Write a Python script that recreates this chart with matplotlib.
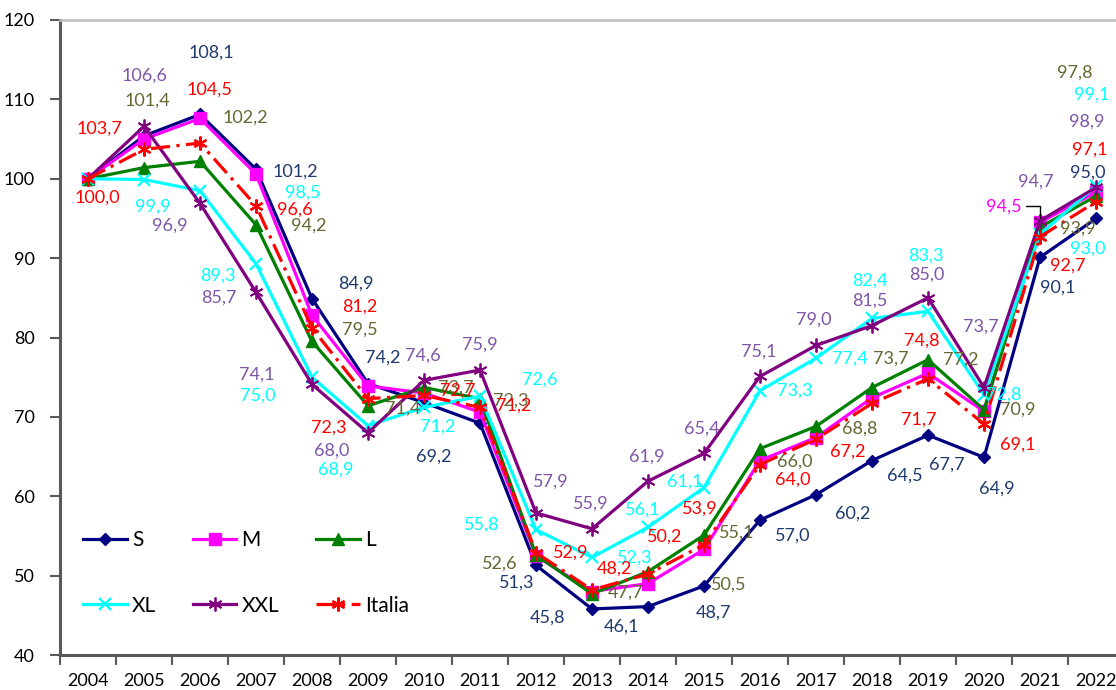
import numpy as np
import matplotlib
matplotlib.use('Agg')
import matplotlib.pyplot as plt

plt.rcParams['font.family'] = ['Lato', 'DejaVu Sans']

# Data (index 2004 = 100)
years = [str(y) for y in range(2004, 2023)]
S = [100.0, 105.4, 108.1, 101.2, 84.9, 74.2, 71.8, 69.2, 51.3, 45.8,
     46.1, 48.7, 57.0, 60.2, 64.5, 67.7, 64.9, 90.1, 95.0]
M = [100.0, 105.0, 107.6, 100.6, 82.8, 73.9, 73.0, 70.6, 52.5, 48.0,
     49.0, 53.3, 64.5, 67.4, 72.4, 75.5, 70.7, 94.5, 98.3]
L = [100.0, 101.4, 102.2, 94.2, 79.5, 71.4, 73.7, 72.3, 52.6, 47.7,
     50.5, 55.1, 66.0, 68.8, 73.7, 77.2, 70.9, 93.9, 97.8]
XL = [100.0, 99.9, 98.5, 89.3, 75.0, 68.9, 71.2, 72.6, 55.8, 52.3,
      56.1, 61.1, 73.3, 77.4, 82.4, 83.3, 72.8, 93.0, 99.1]
XXL = [100.0, 106.6, 96.9, 85.7, 74.1, 68.0, 74.6, 75.9, 57.9, 55.9,
       61.9, 65.4, 75.1, 79.0, 81.5, 85.0, 73.7, 94.7, 98.9]
Italia = [100.0, 103.7, 104.5, 96.6, 81.2, 72.3, 72.7, 71.2, 52.9, 48.2,
          50.2, 53.9, 64.0, 67.2, 71.7, 74.8, 69.1, 92.7, 97.1]

series = {'S': S, 'M': M, 'L': L, 'XL': XL, 'XXL': XXL, 'Italia': Italia}

# line styles
styles = {
    'S':      dict(color='#000080', marker='D', ms=6.5, ls='-'),
    'M':      dict(color='#FF00FF', marker='s', ms=9, ls='-'),
    'L':      dict(color='#008000', marker='^', ms=8.5, ls='-'),
    'XL':     dict(color='#00FFFF', marker='x', ms=9, mew=1.6, ls='-'),
    'XXL':    dict(color='#800080', marker=(6, 2, 0), ms=10, mew=1.3, ls='-'),
    'Italia': dict(color='#FF0000', marker=(6, 2, 0), ms=10, mew=1.6,
                   ls=(0, (6, 2, 1, 2))),
}
label_colors = {'S': '#1F3A6E', 'M': '#FF00FF', 'L': '#666633',
                'XL': '#00FFFF', 'XXL': '#7F55A8', 'Italia': '#FF0000'}

# data label placement: (year index, dx, dy) in pixels from the point
label_pos = {
    'S': [(2, 11, 62), (3, 39, -2), (4, 44, 15), (5, 15, 26), (7, -46, -33),
          (8, -19, -17), (9, -45, -9), (10, -27, -20), (11, 10, -27),
          (12, 33, -16), (13, 37, -19), (14, 33, -15), (15, 19, -29),
          (16, 13, -31), (17, 18, -30), (18, -8, 46)],
    'M': [(17, -36, 16)],
    'L': [(1, 3, 67), (2, 45, 44), (3, 53, -1), (4, 48, 12), (5, 35, -3),
          (6, 32, 0), (7, 31, -2), (8, -36, -9), (9, 34, 1), (10, 81, -13),
          (11, 33, 3), (12, 35, -13), (13, 44, -2), (14, 19, 29),
          (15, 33, 0), (16, 34, 0), (17, 38, -1), (18, -21, 124)],
    'XL': [(1, 9, -27), (2, 103, -2), (3, -38, -12), (4, -54, -18),
           (5, -32, -44), (6, 14, -19), (7, 60, 17), (8, -54, 5),
           (9, 43, 0), (10, -5, 18), (11, -19, 6), (12, 35, 0),
           (13, 34, 0), (14, -2, 38), (15, -2, 56), (16, 20, 0),
           (17, 48, -14), (18, -4, 91)],
    'XXL': [(1, 0, 51), (2, -30, -22), (3, -37, -5), (4, -55, 10),
            (5, -36, -18), (6, -1, 25), (7, 0, 25), (8, 15, 31),
            (9, -1, 25), (10, -1, 25), (11, -2, 25), (12, -1, 25),
            (13, -2, 26), (14, -2, 25), (15, -1, 23), (16, -3, 61),
            (17, -4, 39), (18, -9, 66)],
    'Italia': [(0, 9, -19), (1, -45, 21), (2, 9, 53), (3, 39, -4),
               (4, 48, 21), (5, -39, -29), (6, 34, 5), (7, 34, 2),
               (8, 35, 0), (9, 22, 21), (10, 17, 37), (11, -4, 36),
               (12, 33, -15), (13, 32, -13), (14, 47, -16), (15, -6, 38),
               (16, 34, -21), (17, 28, -29), (18, -6, 52)],
}

fig = plt.figure(figsize=(11.16, 6.90), dpi=100)
ax = fig.add_axes([60 / 1116, 1 - 655 / 690, 1064 / 1116, 635 / 690])

x = np.arange(len(years))
lines = {}
for name, vals in series.items():
    st = styles[name]
    ln, = ax.plot(x, vals, color=st['color'], ls=st['ls'], lw=2.3,
                  marker=st['marker'], ms=st['ms'], mew=st.get('mew', 1),
                  mfc=st['color'], mec=st['color'], label=name)
    lines[name] = ln

for name, specs in label_pos.items():
    vals = series[name]
    for i, dx, dy in specs:
        txt = f'{vals[i]:.1f}'.replace('.', ',')
        if name == 'M' and i == 17:
            ax.annotate(txt, xy=(x[i], vals[i]), xytext=(dx, dy),
                        textcoords='offset pixels', ha='center', va='center',
                        color=label_colors[name], fontsize=13,
                        arrowprops=dict(arrowstyle='-', color='black', lw=1,
                                        shrinkA=1, shrinkB=3,
                                        connectionstyle='angle,angleA=0,angleB=90,rad=0'))
        else:
            ax.annotate(txt, xy=(x[i], vals[i]), xytext=(dx, dy),
                        textcoords='offset pixels', ha='center', va='center',
                        color=label_colors[name], fontsize=13)

ax.set_xlim(-0.5, len(years) - 0.5)
ax.set_ylim(40, 120)
ax.set_yticks(range(40, 121, 10))
ax.set_xticks(x)
ax.set_xticklabels(years)
ax.set_xticks(np.arange(-0.5, len(years)), minor=True)
ax.tick_params(axis='x', which='major', length=0, pad=13, labelsize=13)
ax.tick_params(axis='x', which='minor', length=7, width=1.5, color='#595959')
ax.tick_params(axis='y', length=7, width=1.5, color='#595959', pad=11,
               labelsize=13)

for side in ['left', 'bottom']:
    ax.spines[side].set_color('#595959')
    ax.spines[side].set_linewidth(2.2)
ax.spines['top'].set_color('#BFBFBF')
ax.spines['top'].set_linewidth(1.8)
ax.spines['right'].set_visible(False)

order = ['S', 'XL', 'M', 'XXL', 'L', 'Italia']
ax.legend([lines[n] for n in order], order, loc='upper left',
          bbox_to_anchor=(0.0216, 0.197), ncol=3, frameon=False,
          fontsize=15, handlelength=2.1, handletextpad=0.25,
          columnspacing=1.75, labelspacing=2.2, borderpad=0,
          borderaxespad=0, numpoints=1)

fig.savefig('out.png', dpi=100)
